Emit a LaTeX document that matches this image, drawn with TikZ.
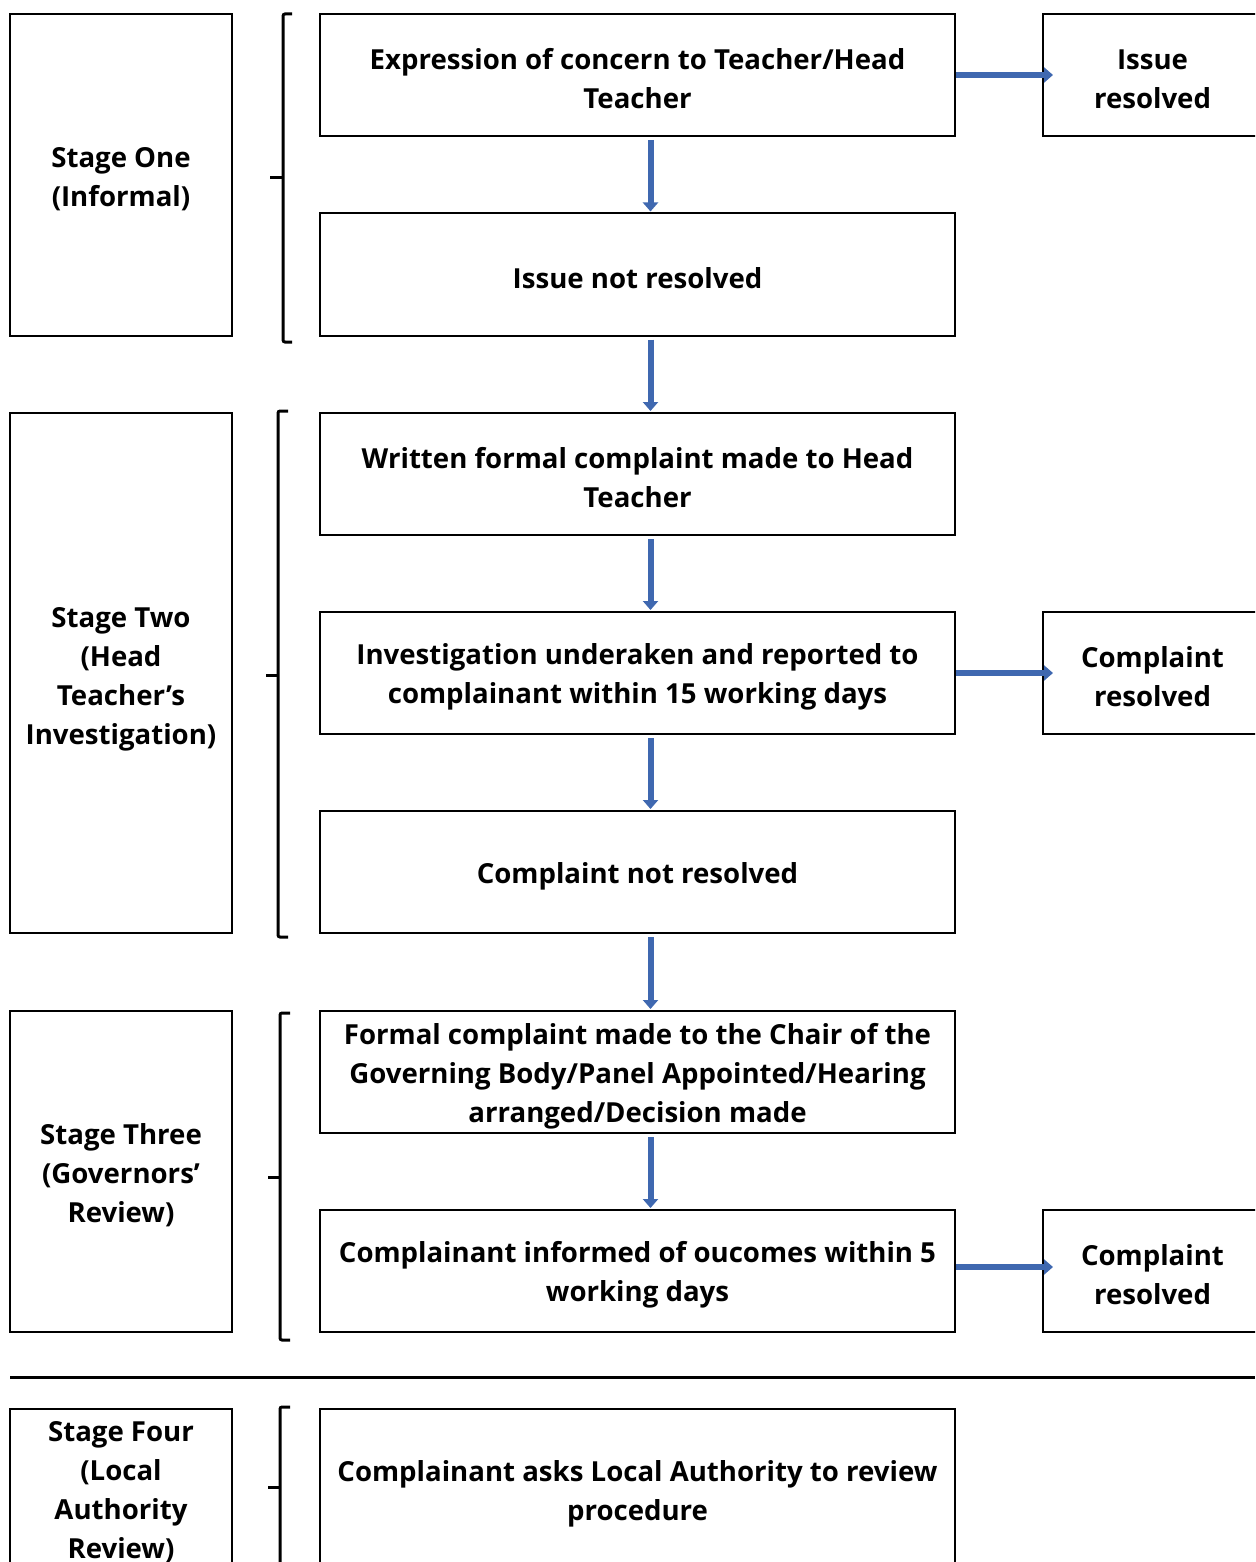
\documentclass[tikz,border=0pt]{standalone}
\usepackage{fontspec}
\setmainfont{Open Sans}
\usetikzlibrary{arrows.meta}
\definecolor{arrowblue}{HTML}{3F68B0}
\begin{document}
\begin{tikzpicture}[x=0.5pt,y=-0.5pt,
  txt/.style={align=center, inner sep=0pt,
    font=\fontsize{13.8}{19.5}\selectfont\bfseries},
  lbl/.style={label={[txt,yshift=-2pt]center:#1}},
  box/.style={draw=black, line width=1pt, inner sep=0pt},
  stagebox/.style={box, minimum width=111pt},
  midbox/.style={box, minimum width=317.5pt, minimum height=61pt},
  sidebox/.style={box, minimum width=109.5pt, minimum height=61pt},
  arr/.style={line width=3pt, arrowblue, -{Triangle[length=4.5pt,width=7.5pt]}},
  brace/.style={line width=1.5pt, rounded corners=1pt}]
\useasboundingbox (0,0) rectangle (1255,1562);
\clip (0,0) rectangle (1255,1562);
% stage boxes
\node[stagebox, minimum height=161pt, lbl={Stage One\\(Informal)}] (s1) at (121,175) {};
\node[stagebox, minimum height=260pt, label={[txt,yshift=-3pt]center:Stage Two\\(Head\\Teacher’s\\Investigation)}] (s2) at (121,673) {};
\node[stagebox, minimum height=160.5pt, lbl={Stage Three\\(Governors’\\Review)}] (s3) at (121,1171.5) {};
\node[stagebox, minimum height=161pt] (s4) at (121,1570) {};
\node[txt] (s4t) at (121,1492) {Stage Four\\(Local\\Authority\\Review)};
% middle boxes
\node[midbox, lbl={Expression of concern to Teacher/Head\\Teacher}] (b1) at (637.5,75) {};
\node[midbox, lbl={Issue not resolved}] (b2) at (637.5,274.5) {};
\node[midbox, lbl={Written formal complaint made to Head\\Teacher}] (b3) at (637.5,474) {};
\node[midbox, lbl={Investigation underaken and reported to\\complainant within 15 working days}] (b4) at (637.5,673) {};
\node[midbox, lbl={Complaint not resolved}] (b5) at (637.5,872) {};
\node[midbox, lbl={Formal complaint made to the Chair of the\\Governing Body/Panel Appointed/Hearing\\arranged/Decision made}] (b6) at (637.5,1072) {};
\node[midbox, lbl={Complainant informed of oucomes within 5\\working days}] (b7) at (637.5,1271) {};
\node[midbox, minimum height=81pt, lbl={Complainant asks Local Authority to review\\procedure}] (b8) at (637.5,1490) {};
% side boxes
\node[sidebox, lbl={Issue\\resolved}] (r1) at (1152.5,75) {};
\node[sidebox, lbl={Complaint\\resolved}] (r2) at (1152.5,673) {};
\node[sidebox, lbl={Complaint\\resolved}] (r3) at (1152.5,1271) {};
% vertical arrows
\foreach \a/\b in {b1/b2,b2/b3,b3/b4,b4/b5,b5/b6,b6/b7}
  \draw[arr] ([xshift=6.5pt,yshift=-1.5pt]\a.south) -- ([xshift=6.5pt,yshift=0.5pt]\b.north);
% horizontal arrows
\draw[arr] (b1.east) -- ([xshift=5.5pt]r1.west);
\draw[arr] (b4.east) -- ([xshift=5.5pt]r2.west);
\draw[arr] ([yshift=2pt]b7.east) -- ([xshift=5.5pt,yshift=2pt]r3.west);
% braces
\draw[brace] (292,14) -- (283,14) -- (283,342) -- (292,342);
\draw[brace] (270,178) -- (283,178);
\draw[brace] (288,411) -- (278,411) -- (278,937) -- (288,937);
\draw[brace] (266,675) -- (278,675);
\draw[brace] (290,1013) -- (280,1013) -- (280,1340) -- (290,1340);
\draw[brace] (268,1177) -- (280,1177);
\draw[brace] (290,1407) -- (280,1407) -- (280,1600);
\draw[brace] (268,1487) -- (280,1487);
% separator line
\draw[line width=1.5pt] (10,1377) -- (1255,1377);
\end{tikzpicture}
\end{document}
